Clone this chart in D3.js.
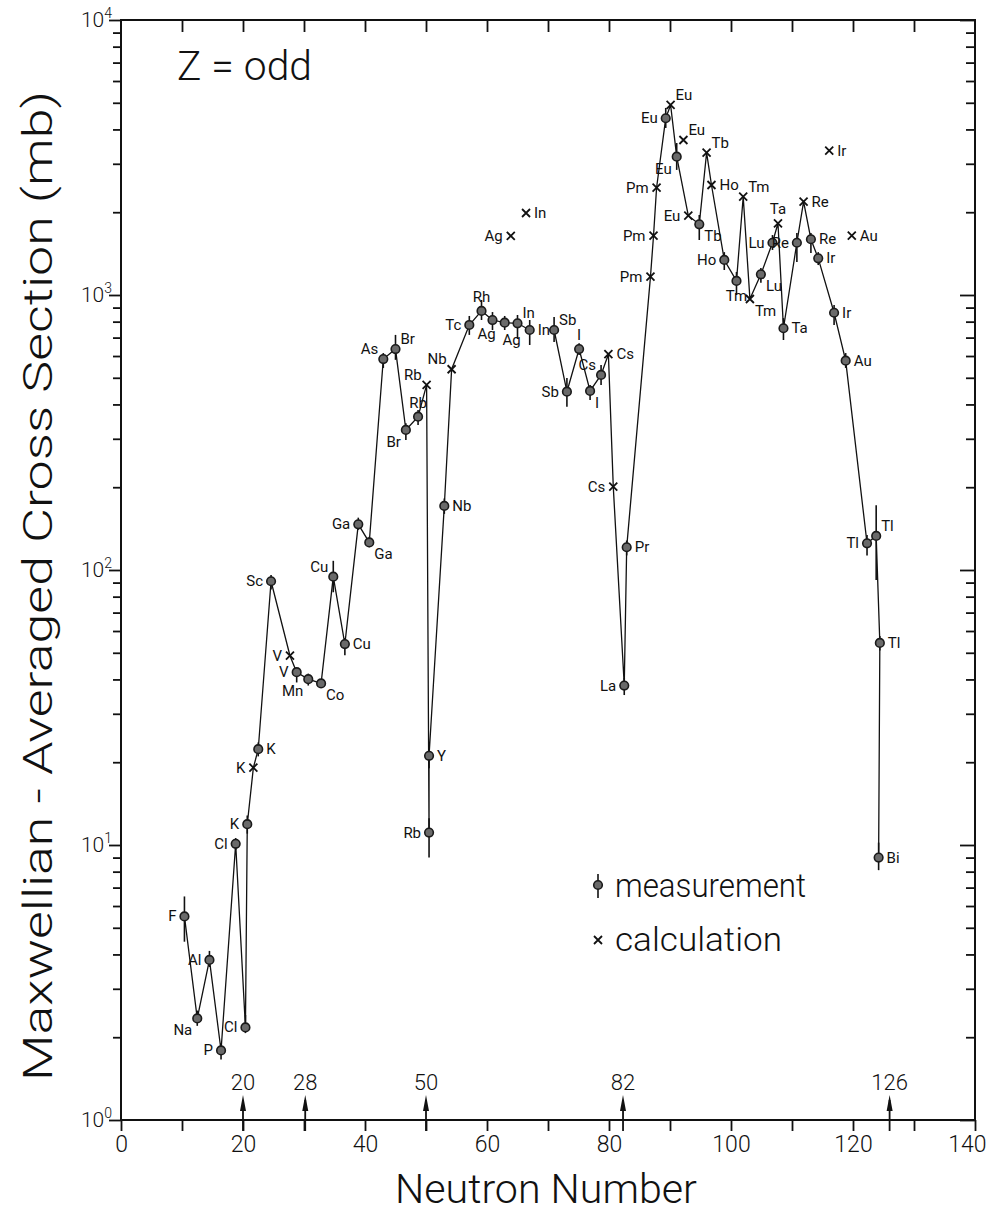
<!DOCTYPE html>
<html>
<head>
<meta charset="utf-8">
<script src="https://cdn.jsdelivr.net/npm/d3@7"></script>
<style>
  body { margin: 0; background: #fff; }
  svg { display: block; }
  text { fill: #111; font-family: Roboto, "DejaVu Sans Condensed", sans-serif; }
  .big { font-weight: 300; }
</style>
</head>
<body>
<svg id="chart" width="987" height="1213"></svg>
<script>
// points in drawing order; joined = 1 means a line comes in from the previous point
const elements = ["F","Na","Al","P","Cl","Cl","K","K","K","Sc","V","V","Mn","Co","Cu","Cu","Ga","Ga","As","Br","Br","Rb","Rb","Rb","Y","Nb","Nb","Tc","Rh","Ag","Ag","In","In","Sb","Sb","I","I","Cs","Cs","Cs","La","Pr","Pm","Pm","Pm","Eu","Eu","Eu","Eu","Tb","Tb","Ho","Ho","Tm","Tm","Tm","Lu","Lu","Ta","Ta","Re","Re","Re","Ir","Ir","Au","Tl","Tl","Tl","Bi","Eu","Ag","In","Ir","Au"];
const neutrons = [10.4,12.5,14.5,16.4,18.8,20.4,20.7,21.7,22.5,24.6,27.7,28.8,30.7,32.8,34.8,36.7,38.9,40.7,43.0,45.0,46.7,48.7,50.1,50.5,50.5,53.0,54.2,57.1,59.1,60.9,62.9,65.0,67.0,71.0,73.1,75.1,76.9,78.7,79.9,80.7,82.5,82.9,86.8,87.3,87.8,89.3,90.1,91.1,93.0,94.8,96.0,96.8,98.9,100.9,102.0,103.1,104.9,106.8,107.7,108.6,110.8,111.9,113.1,114.3,116.9,118.8,122.3,123.8,124.4,124.2,92.2,63.9,66.4,116.1,119.8];
const sigma = [5.5,2.34,3.82,1.79,10.1,2.17,11.9,19.1,22.3,91,48.8,42.5,40.1,38.7,94.6,53.8,146.6,126,585,636,323,361,471,11.1,21.1,171,537,778,875,811,793,789,746,746,445,636,448,512,609,201,38,121,1166,1643,2455,4392,4909,3185,1942,1807,3292,2512,1341,1125,2277,967,1189,1549,1823,757,1549,2184,1595,1359,862,577,125,133,54.3,9.0,3661,1640,1987,3348,1643];
const kind = ["m","m","m","m","m","m","m","c","m","m","c","m","m","m","m","m","m","m","m","m","m","m","c","m","m","m","c","m","m","m","m","m","m","m","m","m","m","m","c","c","m","m","c","c","c","m","c","m","c","m","c","c","m","m","c","c","m","m","c","m","m","c","m","m","m","m","m","m","m","m","c","c","c","c","c"];
const errLow = [4.45,2.2,3.6,1.66,9.6,2.07,11,null,21,85,null,39,38,37.3,83,49,140,121,543,581,297,337,null,9.0,19,160,null,716,811,746,746,692,658,675,392,605,415,471,null,null,35.1,113,null,null,null,4050,null,2850,null,1585,null,null,1233,1000,null,null,1107,1458,null,686,1318,null,1422,1285,778,543,113,92,51,8.1,null,null,null,null,null];
const errHigh = [6.5,2.5,4.12,1.9,10.6,2.41,12.8,null,23.6,96,null,44,42,40,108,56.6,155,132,615,716,342,382,null,12.5,23,182,null,839,959,867,839,846,811,832,499,668,471,556,null,null,40.5,128,null,null,null,4790,null,3570,null,1954,null,null,1432,1213,null,null,1253,1652,null,824,1680,null,1680,1432,920,615,134,172,57.5,10.2,null,null,null,null,null];
const joined = [0,1,1,1,1,1,1,1,1,1,1,1,1,1,1,1,1,1,1,1,1,1,1,1,1,1,1,1,1,1,1,1,1,0,1,1,1,1,1,1,1,1,1,1,1,1,1,1,1,1,1,1,1,1,1,1,1,1,1,1,1,1,1,1,1,1,1,1,1,1,0,0,0,0,0];
// side of the point each element label sits on
const labelSide = ["l","bl","l","l","l","l","l","l","r","l","l","l","bl","br","tl","r","l","br","tl","tr","bl","t","tl","l","r","r","tl","l","t","bL","bR","tr","r","tr","l","t","br","tl","r","l","l","r","l","l","l","l","tr","bl","l","br","tr","r","l","b","tr","br","br","l","t","r","l","r","r","r","r","r","l","tr","r","r","tr","l","r","r","r"];

const magicNumbers = ["20", "28", "50", "82", "126"];
const magicAt = [20, 30.2, 50, 82.3, 126];
const xTickLabels = [0, 20, 40, 60, 80, 100, 120, 140];
const yDecades = [1, 10, 100, 1000, 10000];
const yExponents = ["0", "1", "2", "3", "4"];

const svg = d3.select("#chart");
const x = d3.scaleLinear().domain([0, 140]).range([121, 975]);
const y = d3.scaleLog().domain([1, 1e4]).range([1120, 20]);

const pts = elements.map((e, i) => ({
  el: e, n: neutrons[i], v: sigma[i], kind: kind[i],
  lo: errLow[i], hi: errHigh[i], join: joined[i], side: labelSide[i]
}));

// minor log ticks
const minor = [];
yDecades.slice(0, -1).forEach(d => { for (let k = 2; k <= 9; k++) minor.push(d * k); });

// ---- axes / frame ----
const axisStyle = g => {
  g.select(".domain").remove();
  g.selectAll("line").attr("stroke", "#111").attr("stroke-width", 1.8);
};
svg.append("g").attr("transform", "translate(" + x(0) + ",0)")
  .call(d3.axisLeft(y).tickValues(minor).tickSize(8).tickFormat("")).call(axisStyle);
svg.append("g").attr("transform", "translate(" + x(0) + ",0)")
  .call(d3.axisLeft(y).tickValues(yDecades).tickSize(12).tickFormat("")).call(axisStyle);
svg.append("g").attr("transform", "translate(" + x(140) + ",0)")
  .call(d3.axisLeft(y).tickValues(minor).tickSize(9).tickFormat("")).call(axisStyle);
svg.append("g").attr("transform", "translate(" + x(140) + ",0)")
  .call(d3.axisLeft(y).tickValues(yDecades).tickSize(15).tickFormat("")).call(axisStyle);
svg.append("g").attr("transform", "translate(0," + y(1e4) + ")")
  .call(d3.axisBottom(x).tickValues(d3.range(10, 140, 10)).tickSize(12).tickFormat("")).call(axisStyle);
const xAxis = svg.append("g").attr("transform", "translate(0," + y(1) + ")")
  .call(d3.axisBottom(x).tickValues(d3.range(0, 141, 10)).tickSize(11).tickPadding(5)
    .tickFormat(d => xTickLabels.includes(d) ? d : ""));
axisStyle(xAxis);
xAxis.selectAll("text").attr("class", "big").style("font-size", "23px").attr("fill", "#111")
  .filter(d => d === 140).attr("text-anchor", "end").attr("x", 986 - x(140));

svg.append("rect")
  .attr("x", x(0)).attr("y", y(1e4))
  .attr("width", x(140) - x(0)).attr("height", y(1) - y(1e4))
  .attr("fill", "none").attr("stroke", "#111").attr("stroke-width", 2);

// decade labels 10^n
yDecades.forEach((d, i) => {
  const t = svg.append("text").attr("class", "big").attr("x", 112).attr("y", y(d) + 7)
    .attr("text-anchor", "end").style("font-size", "21px");
  t.append("tspan").text("10");
  t.append("tspan").attr("dy", -9).style("font-size", "14px").text(yExponents[i]);
});

// magic number arrows
magicNumbers.forEach((m, i) => {
  const mx = x(magicAt[i]);
  svg.append("line").attr("x1", mx).attr("x2", mx).attr("y1", y(1) - 20).attr("y2", y(1) + 11)
    .attr("stroke", "#111").attr("stroke-width", 1.8);
  svg.append("path")
    .attr("d", "M" + mx + "," + (y(1) - 25) + "L" + (mx + 3) + "," + (y(1) - 9) + "L" + (mx - 3) + "," + (y(1) - 9) + "Z")
    .attr("fill", "#111");
  svg.append("text").attr("class", "big").attr("x", mx).attr("y", y(1) - 30).attr("text-anchor", "middle")
    .style("font-size", "22px").text(m);
});

// ---- connecting line ----
const segs = [];
pts.forEach(p => {
  if (p.join && segs.length) segs[segs.length - 1].push(p);
  else segs.push([p]);
});
const line = d3.line().x(d => x(d.n)).y(d => y(d.v));
svg.append("g").selectAll("path").data(segs.filter(s => s.length > 1)).join("path")
  .attr("d", line).attr("fill", "none").attr("stroke", "#111").attr("stroke-width", 1.3);

// ---- markers ----
const meas = pts.filter(p => p.kind === "m");
const calc = pts.filter(p => p.kind === "c");

svg.append("g").selectAll("line").data(meas.filter(p => p.lo != null)).join("line")
  .attr("x1", d => x(d.n)).attr("x2", d => x(d.n))
  .attr("y1", d => y(d.hi)).attr("y2", d => y(d.lo))
  .attr("stroke", "#111").attr("stroke-width", 1.6);

svg.append("g").selectAll("circle").data(meas).join("circle")
  .attr("cx", d => x(d.n)).attr("cy", d => y(d.v)).attr("r", 4.3)
  .attr("fill", "#6a6a6a").attr("stroke", "#1a1a1a").attr("stroke-width", 1.6);

const cross = "M-4,-4L4,4M-4,4L4,-4";
svg.append("g").selectAll("path").data(calc).join("path")
  .attr("transform", d => "translate(" + x(d.n) + "," + y(d.v) + ")")
  .attr("d", cross).attr("stroke", "#111").attr("stroke-width", 1.8).attr("fill", "none");

// ---- element labels ----
const off = {
  l: [-8, 5, "end"], r: [8, 5, "start"], t: [0, -9, "middle"], b: [0, 20, "middle"],
  tl: [-5, -5, "end"], tr: [5, -5, "start"], bl: [-5, 17, "end"], br: [5, 17, "start"],
  bL: [-6, 19, "middle"], bR: [7, 22, "middle"]
};
svg.append("g").selectAll("text").data(pts).join("text")
  .attr("x", d => x(d.n) + off[d.side][0])
  .attr("y", d => y(d.v) + off[d.side][1])
  .attr("text-anchor", d => off[d.side][2])
  .style("font-size", "15px")
  .text(d => d.el);

// ---- titles ----
svg.append("text").attr("class", "big").attr("x", 177).attr("y", 80)
  .attr("textLength", 135).attr("lengthAdjust", "spacingAndGlyphs")
  .style("font-size", "41px").text("Z = odd");

svg.append("text").attr("class", "big").attr("transform", "translate(52,586) rotate(-90)")
  .attr("text-anchor", "middle").attr("textLength", 990).attr("lengthAdjust", "spacingAndGlyphs")
  .style("font-size", "41px").text("Maxwellian - Averaged  Cross  Section  (mb)");

svg.append("text").attr("class", "big").attr("x", 546).attr("y", 1203).attr("text-anchor", "middle")
  .attr("textLength", 302).attr("lengthAdjust", "spacingAndGlyphs")
  .style("font-size", "40px").text("Neutron  Number");

// ---- legend ----
const lg = svg.append("g");
lg.append("line").attr("x1", 598).attr("x2", 598).attr("y1", 874).attr("y2", 898)
  .attr("stroke", "#111").attr("stroke-width", 1.6);
lg.append("circle").attr("cx", 598).attr("cy", 885).attr("r", 4.3)
  .attr("fill", "#6a6a6a").attr("stroke", "#1a1a1a").attr("stroke-width", 1.6);
lg.append("path").attr("transform", "translate(598,940)").attr("d", cross)
  .attr("stroke", "#111").attr("stroke-width", 1.8);
lg.append("text").attr("class", "big").attr("x", 615).attr("y", 897).attr("textLength", 191)
  .attr("lengthAdjust", "spacingAndGlyphs").style("font-size", "34px").text("measurement");
lg.append("text").attr("class", "big").attr("x", 615).attr("y", 951).attr("textLength", 167)
  .attr("lengthAdjust", "spacingAndGlyphs").style("font-size", "34px").text("calculation");
</script>
</body>
</html>
